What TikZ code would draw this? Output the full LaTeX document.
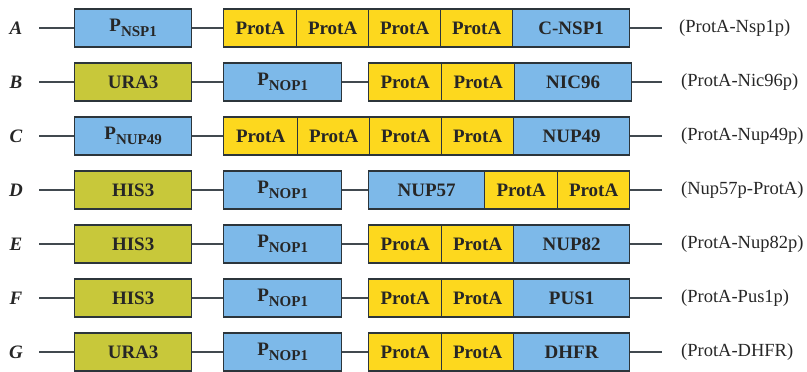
\documentclass[tikz,border=0pt]{standalone}
\usepackage{fontspec}
\setmainfont{Liberation Serif}
\definecolor{cblue}{HTML}{7DB9E9}
\definecolor{cyel}{HTML}{FDD81E}
\definecolor{colive}{HTML}{C8C83A}
\definecolor{cedge}{HTML}{2C353B}
\newcommand\Psub[1]{P\raisebox{-0.3em}{\fontsize{15}{16}\selectfont\bfseries #1}}
\begin{document}
\begin{tikzpicture}[x=1pt,y=-1pt,
  box/.style={draw=cedge,line width=1.3pt,minimum height=38pt,inner sep=0pt,anchor=west,
    font=\fontsize{19}{21}\selectfont\bfseries,text=black!85},
  bl/.style={box,fill=cblue},
  yl/.style={box,fill=cyel},
  ol/.style={box,fill=colive},
  ln/.style={draw=cedge!90,line width=1.3pt},
  lab/.style={anchor=west,inner sep=0pt,font=\fontsize{18.5}{20}\selectfont,text=black!85},
  let/.style={font=\fontsize{19}{20}\selectfont\bfseries\itshape,text=black!85,inner sep=0pt}]
\useasboundingbox (0,0) rectangle (807,372);
% Row A
\node[let] (la) at (16,28) {A};
\coordinate (a0) at (39,28);
\node[bl,minimum width=117pt] (a1) at (74,28) {\Psub{NSP1}};
\node[yl,minimum width=73pt] (a2) at (223,28) {ProtA};
\node[yl,minimum width=72pt] (a3) at (296,28) {ProtA};
\node[yl,minimum width=72pt] (a4) at (368,28) {ProtA};
\node[yl,minimum width=72pt] (a5) at (440,28) {ProtA};
\node[bl,minimum width=117pt] (a6) at (512,28) {C-NSP1};
\coordinate (a7) at (662,28);
\node[lab] (ta) at (679,28) {(ProtA-Nsp1p)};
\draw[ln] (a0) -- (a1.west) (a1.east) -- (a2.west) (a6.east) -- (a7);
% Row B
\node[let] (lb) at (16,82) {B};
\coordinate (b0) at (39,82);
\node[ol,minimum width=117pt] (b1) at (74,82) {URA3};
\node[bl,minimum width=118pt] (b2) at (223,82) {\Psub{NOP1}};
\node[yl,minimum width=73pt] (b3) at (368,82) {ProtA};
\node[yl,minimum width=73pt] (b4) at (441,82) {ProtA};
\node[bl,minimum width=117pt] (b5) at (514,82) {NIC96};
\coordinate (b6) at (662,82);
\node[lab] (tb) at (681,82) {(ProtA-Nic96p)};
\draw[ln] (b0) -- (b1.west) (b1.east) -- (b2.west) (b2.east) -- (b3.west) (b5.east) -- (b6);
% Row C
\node[let] (lc) at (16,136) {C};
\coordinate (c0) at (39,136);
\node[bl,minimum width=117pt] (c1) at (74,136) {\Psub{NUP49}};
\node[yl,minimum width=74pt] (c2) at (223,136) {ProtA};
\node[yl,minimum width=72pt] (c3) at (297,136) {ProtA};
\node[yl,minimum width=72pt] (c4) at (369,136) {ProtA};
\node[yl,minimum width=72pt] (c5) at (441,136) {ProtA};
\node[bl,minimum width=116pt] (c6) at (513,136) {NUP49};
\coordinate (c7) at (662,136);
\node[lab] (tc) at (681,136) {(ProtA-Nup49p)};
\draw[ln] (c0) -- (c1.west) (c1.east) -- (c2.west) (c6.east) -- (c7);
% Row D
\node[let] (ld) at (16,190) {D};
\coordinate (d0) at (39,190);
\node[ol,minimum width=117pt] (d1) at (74,190) {HIS3};
\node[bl,minimum width=118pt] (d2) at (223,190) {\Psub{NOP1}};
\node[bl,minimum width=116pt] (d3) at (368,190) {NUP57};
\node[yl,minimum width=73pt] (d4) at (484,190) {ProtA};
\node[yl,minimum width=72pt] (d5) at (557,190) {ProtA};
\coordinate (d6) at (662,190);
\node[lab] (td) at (681,190) {(Nup57p-ProtA)};
\draw[ln] (d0) -- (d1.west) (d1.east) -- (d2.west) (d2.east) -- (d3.west) (d5.east) -- (d6);
% Row E
\node[let] (le) at (16,244) {E};
\coordinate (e0) at (39,244);
\node[ol,minimum width=117pt] (e1) at (74,244) {HIS3};
\node[bl,minimum width=118pt] (e2) at (223,244) {\Psub{NOP1}};
\node[yl,minimum width=73pt] (e3) at (368,244) {ProtA};
\node[yl,minimum width=72pt] (e4) at (441,244) {ProtA};
\node[bl,minimum width=116pt] (e5) at (513,244) {NUP82};
\coordinate (e6) at (662,244);
\node[lab] (te) at (681,244) {(ProtA-Nup82p)};
\draw[ln] (e0) -- (e1.west) (e1.east) -- (e2.west) (e2.east) -- (e3.west) (e5.east) -- (e6);
% Row F
\node[let] (lf) at (16,298) {F};
\coordinate (f0) at (39,298);
\node[ol,minimum width=117pt] (f1) at (74,298) {HIS3};
\node[bl,minimum width=118pt] (f2) at (223,298) {\Psub{NOP1}};
\node[yl,minimum width=73pt] (f3) at (368,298) {ProtA};
\node[yl,minimum width=72pt] (f4) at (441,298) {ProtA};
\node[bl,minimum width=116pt] (f5) at (513,298) {PUS1};
\coordinate (f6) at (662,298);
\node[lab] (tf) at (681,298) {(ProtA-Pus1p)};
\draw[ln] (f0) -- (f1.west) (f1.east) -- (f2.west) (f2.east) -- (f3.west) (f5.east) -- (f6);
% Row G
\node[let] (lg) at (16,352) {G};
\coordinate (g0) at (39,352);
\node[ol,minimum width=117pt] (g1) at (74,352) {URA3};
\node[bl,minimum width=118pt] (g2) at (223,352) {\Psub{NOP1}};
\node[yl,minimum width=73pt] (g3) at (368,352) {ProtA};
\node[yl,minimum width=72pt] (g4) at (441,352) {ProtA};
\node[bl,minimum width=116pt] (g5) at (513,352) {DHFR};
\coordinate (g6) at (662,352);
\node[lab] (tg) at (681,352) {(ProtA-DHFR)};
\draw[ln] (g0) -- (g1.west) (g1.east) -- (g2.west) (g2.east) -- (g3.west) (g5.east) -- (g6);
\end{tikzpicture}
\end{document}
